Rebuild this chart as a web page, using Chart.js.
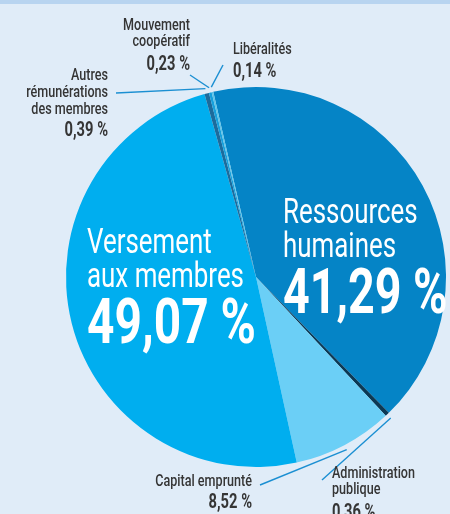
<!DOCTYPE html>
<html>
<head>
<meta charset="utf-8">
<script src="https://cdn.jsdelivr.net/npm/chart.js@4"></script>
<style>
  html, body { margin: 0; padding: 0; background: #e0ecf8; }
  body { width: 450px; height: 514px; overflow: hidden; position: relative; }
  .topbar { position: absolute; left: 0; top: 0; width: 450px; height: 4px; background: #b8d4f0; }
  #wrap { position: absolute; left: 0; top: 0; width: 450px; height: 514px; }
</style>
</head>
<body>
<div class="topbar"></div>
<div id="wrap"><canvas id="pieChart"></canvas></div>
<script>
// Répartition (%)
const categories = [
    'Ressources humaines',
    'Administration publique',
    'Capital emprunté',
    'Versement aux membres',
    'Autres rémunérations des membres',
    'Mouvement coopératif',
    'Libéralités'
];
const shares = [41.29, 0.36, 8.52, 49.07, 0.39, 0.23, 0.14];
const sliceColors = ['#0584c6', '#0b3954', '#6bcff6', '#00aeef', '#1c6b9c', '#16a0dc', '#5ec4e8'];

const fmt = v => v.toFixed(2).replace('.', ',') + ' %';

// draw text squeezed horizontally (condensed look)
function drawText(ctx, text, x, y, size, weight, align, squeeze) {
    ctx.save();
    ctx.font = weight + ' ' + size + 'px Roboto, sans-serif';
    const w = ctx.measureText(text).width * squeeze;
    const left = align === 'right' ? x - w : x;
    ctx.translate(left, y);
    ctx.scale(squeeze, 1);
    ctx.textAlign = 'left';
    ctx.textBaseline = 'alphabetic';
    ctx.fillText(text, 0, 0);
    ctx.restore();
}

// small outside labels: label lines, anchor, leader end near the text
const outside = {
    4: { lines: ['Autres', 'rémunérations', 'des membres'], x: 108, y: 80, step: 17, valY: 136, align: 'right', end: [116, 93] },
    5: { lines: ['Mouvement', 'coopératif'], x: 190, y: 30, step: 16, valY: 70, align: 'right', end: [190, 75] },
    6: { lines: ['Libéralités'], x: 233, y: 54, step: 17, valY: 77, align: 'left', end: [223, 65] },
    2: { lines: ['Capital emprunté'], x: 252, y: 486, step: 17, valY: 508, align: 'right', end: [260, 485] },
    1: { lines: ['Administration', 'publique'], x: 332, y: 478, step: 16, valY: 518, align: 'left', end: [322, 480] }
};

const labelPlugin = {
    id: 'pieLabels',
    afterDraw(chart) {
        const ctx = chart.ctx;
        const arcs = chart.getDatasetMeta(0).data;

        // leader lines
        ctx.save();
        ctx.strokeStyle = '#1b8fd2';
        ctx.lineWidth = 1.4;
        Object.keys(outside).forEach(k => {
            const a = arcs[k];
            const o = outside[k];
            const mid = (a.startAngle + a.endAngle) / 2;
            const r = a.outerRadius + 5;
            ctx.beginPath();
            ctx.moveTo(a.x + Math.cos(mid) * r, a.y + Math.sin(mid) * r);
            ctx.lineTo(o.end[0], o.end[1]);
            ctx.stroke();
        });
        ctx.restore();

        // outside texts
        ctx.save();
        ctx.fillStyle = '#353535';
        Object.keys(outside).forEach(k => {
            const o = outside[k];
            o.lines.forEach((t, i) => drawText(ctx, t, o.x, o.y + i * o.step, 17, '500', o.align, 0.74));
            drawText(ctx, fmt(shares[k]), o.x, o.valY, 21, '700', o.align, 0.7);
        });
        ctx.restore();

        // big white labels inside
        ctx.save();
        ctx.fillStyle = '#ffffff';
        drawText(ctx, 'Ressources', 283, 223, 35, '400', 'left', 0.74);
        drawText(ctx, 'humaines', 283, 257, 35, '400', 'left', 0.74);
        drawText(ctx, fmt(shares[0]), 283, 313, 63, '700', 'left', 0.74);
        drawText(ctx, 'Versement', 87, 253, 35, '400', 'left', 0.74);
        drawText(ctx, 'aux membres', 87, 287, 35, '400', 'left', 0.74);
        drawText(ctx, fmt(shares[3]), 87, 343, 63, '700', 'left', 0.76);
        ctx.restore();
    }
};

const pieCtx = document.getElementById('pieChart').getContext('2d');
const pieChart = new Chart(pieCtx, {
    type: 'pie',
    data: {
        labels: categories,
        datasets: [{
            data: shares,
            backgroundColor: sliceColors,
            borderWidth: 0
        }]
    },
    options: {
        responsive: true,
        maintainAspectRatio: false,
        animation: false,
        rotation: -13,
        layout: { padding: { left: 66, right: 4, top: 87, bottom: 47 } },
        plugins: {
            legend: { display: false },
            tooltip: { enabled: false }
        }
    },
    plugins: [labelPlugin]
});
</script>
</body>
</html>
